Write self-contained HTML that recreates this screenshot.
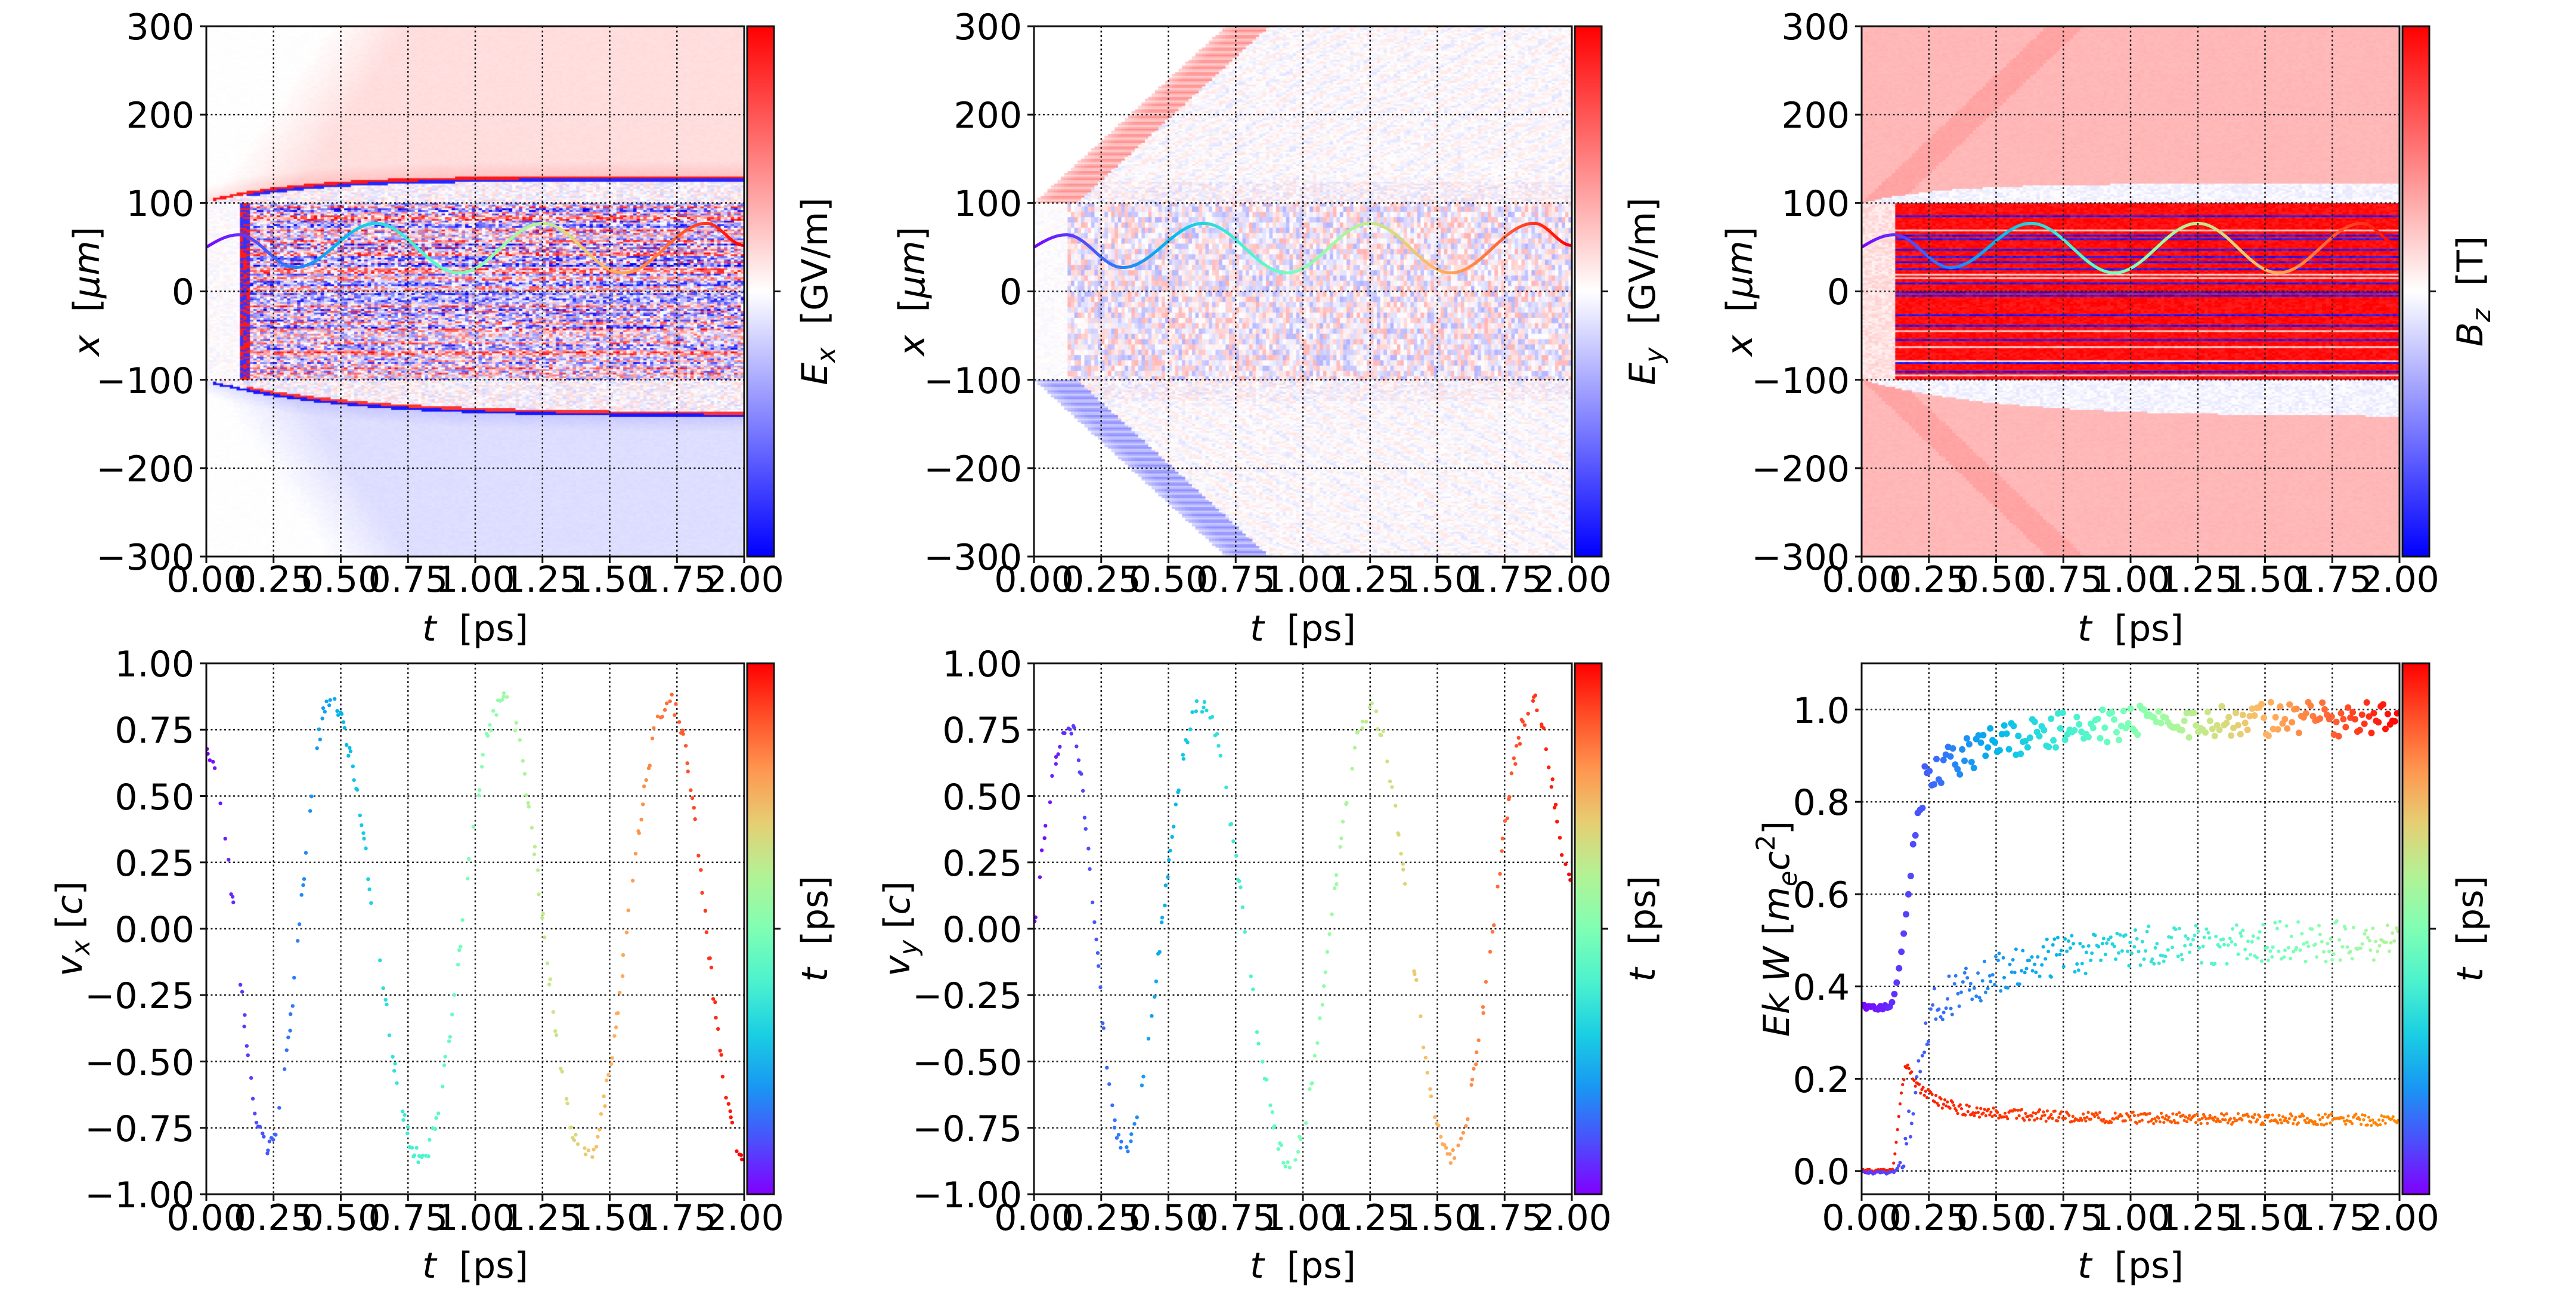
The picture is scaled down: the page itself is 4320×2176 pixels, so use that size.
<!DOCTYPE html>
<html><head><meta charset="utf-8">
<style>
html,body{margin:0;padding:0;background:#fff;}
#wrap{position:relative;width:4320px;height:2176px;overflow:hidden;background:#fff;}
canvas{position:absolute;}
svg{position:absolute;left:0;top:0;}
text{font-family:"DejaVu Sans","Liberation Sans",sans-serif;font-size:60px;fill:#000;white-space:pre;}
.yt{text-anchor:end;}
.xt{text-anchor:middle;}
</style></head><body>
<div id="wrap">
<canvas id="c1" width="902" height="889" style="left:346px;top:44px"></canvas>
<canvas id="c2" width="902" height="889" style="left:1734px;top:44px"></canvas>
<canvas id="c3" width="902" height="889" style="left:3122px;top:44px"></canvas>
<svg id="s" width="4320" height="2176" viewBox="0 0 4320 2176" xmlns="http://www.w3.org/2000/svg">
<defs>
<linearGradient id="gbwr" x1="0" y1="1" x2="0" y2="0">
<stop offset="0" stop-color="#0000ff"/><stop offset="0.5" stop-color="#ffffff"/><stop offset="1" stop-color="#ff0000"/>
</linearGradient>
<linearGradient id="grain" x1="0" y1="1" x2="0" y2="0">
<stop offset="0" stop-color="#8000ff"/><stop offset="0.1" stop-color="#4c4ffc"/><stop offset="0.2" stop-color="#1996f3"/><stop offset="0.3" stop-color="#1acee3"/><stop offset="0.4" stop-color="#4cf2ce"/><stop offset="0.5" stop-color="#80ffb4"/><stop offset="0.6" stop-color="#b2f295"/><stop offset="0.7" stop-color="#e6ce73"/><stop offset="0.8" stop-color="#ff964f"/><stop offset="0.9" stop-color="#ff4f28"/><stop offset="1" stop-color="#ff0000"/>
</linearGradient>
<clipPath id="k1"><rect x="346" y="44" width="902" height="889"/></clipPath>
<clipPath id="k2"><rect x="1734" y="44" width="902" height="889"/></clipPath>
<clipPath id="k3"><rect x="3122" y="44" width="902" height="889"/></clipPath>
<clipPath id="k4"><rect x="346" y="1112" width="902" height="890"/></clipPath>
<clipPath id="k5"><rect x="1734" y="1112" width="902" height="890"/></clipPath>
<clipPath id="k6"><rect x="3122" y="1112" width="902" height="890"/></clipPath>
</defs>
<g id="grid"></g>
<g id="data"></g>
<g id="frames"></g>

<g class="yt">
<text class="yt" x="326" y="66">300</text><text class="yt" x="326" y="214">200</text><text class="yt" x="326" y="362">100</text><text class="yt" x="326" y="510">0</text><text class="yt" x="326" y="659">−100</text><text class="yt" x="326" y="807">−200</text><text class="yt" x="326" y="955">−300</text>
<text class="yt" x="1714" y="66">300</text><text class="yt" x="1714" y="214">200</text><text class="yt" x="1714" y="362">100</text><text class="yt" x="1714" y="510">0</text><text class="yt" x="1714" y="659">−100</text><text class="yt" x="1714" y="807">−200</text><text class="yt" x="1714" y="955">−300</text>
<text class="yt" x="3102" y="66">300</text><text class="yt" x="3102" y="214">200</text><text class="yt" x="3102" y="362">100</text><text class="yt" x="3102" y="510">0</text><text class="yt" x="3102" y="659">−100</text><text class="yt" x="3102" y="807">−200</text><text class="yt" x="3102" y="955">−300</text>
<text class="yt" x="326" y="1134">1.00</text><text class="yt" x="326" y="1245">0.75</text><text class="yt" x="326" y="1357">0.50</text><text class="yt" x="326" y="1468">0.25</text><text class="yt" x="326" y="1579">0.00</text><text class="yt" x="326" y="1690">−0.25</text><text class="yt" x="326" y="1802">−0.50</text><text class="yt" x="326" y="1913">−0.75</text><text class="yt" x="326" y="2024">−1.00</text>
<text class="yt" x="1714" y="1134">1.00</text><text class="yt" x="1714" y="1245">0.75</text><text class="yt" x="1714" y="1357">0.50</text><text class="yt" x="1714" y="1468">0.25</text><text class="yt" x="1714" y="1579">0.00</text><text class="yt" x="1714" y="1690">−0.25</text><text class="yt" x="1714" y="1802">−0.50</text><text class="yt" x="1714" y="1913">−0.75</text><text class="yt" x="1714" y="2024">−1.00</text>
<text class="yt" x="3102" y="1212">1.0</text><text class="yt" x="3102" y="1366">0.8</text><text class="yt" x="3102" y="1521">0.6</text><text class="yt" x="3102" y="1676">0.4</text><text class="yt" x="3102" y="1831">0.2</text><text class="yt" x="3102" y="1985">0.0</text>
</g>

<g>
<text class="xt" x="346" y="992">0.00</text><text class="xt" x="458.75" y="992">0.25</text><text class="xt" x="571.5" y="992">0.50</text><text class="xt" x="684.25" y="992">0.75</text><text class="xt" x="797" y="992">1.00</text><text class="xt" x="909.75" y="992">1.25</text><text class="xt" x="1022.5" y="992">1.50</text><text class="xt" x="1135.25" y="992">1.75</text><text class="xt" x="1248" y="992">2.00</text>
<text class="xt" x="1734" y="992">0.00</text><text class="xt" x="1846.75" y="992">0.25</text><text class="xt" x="1959.5" y="992">0.50</text><text class="xt" x="2072.25" y="992">0.75</text><text class="xt" x="2185" y="992">1.00</text><text class="xt" x="2297.75" y="992">1.25</text><text class="xt" x="2410.5" y="992">1.50</text><text class="xt" x="2523.25" y="992">1.75</text><text class="xt" x="2636" y="992">2.00</text>
<text class="xt" x="3122" y="992">0.00</text><text class="xt" x="3234.75" y="992">0.25</text><text class="xt" x="3347.5" y="992">0.50</text><text class="xt" x="3460.25" y="992">0.75</text><text class="xt" x="3573" y="992">1.00</text><text class="xt" x="3685.75" y="992">1.25</text><text class="xt" x="3798.5" y="992">1.50</text><text class="xt" x="3911.25" y="992">1.75</text><text class="xt" x="4024" y="992">2.00</text>
<text class="xt" x="346" y="2062">0.00</text><text class="xt" x="458.75" y="2062">0.25</text><text class="xt" x="571.5" y="2062">0.50</text><text class="xt" x="684.25" y="2062">0.75</text><text class="xt" x="797" y="2062">1.00</text><text class="xt" x="909.75" y="2062">1.25</text><text class="xt" x="1022.5" y="2062">1.50</text><text class="xt" x="1135.25" y="2062">1.75</text><text class="xt" x="1248" y="2062">2.00</text>
<text class="xt" x="1734" y="2062">0.00</text><text class="xt" x="1846.75" y="2062">0.25</text><text class="xt" x="1959.5" y="2062">0.50</text><text class="xt" x="2072.25" y="2062">0.75</text><text class="xt" x="2185" y="2062">1.00</text><text class="xt" x="2297.75" y="2062">1.25</text><text class="xt" x="2410.5" y="2062">1.50</text><text class="xt" x="2523.25" y="2062">1.75</text><text class="xt" x="2636" y="2062">2.00</text>
<text class="xt" x="3122" y="2062">0.00</text><text class="xt" x="3234.75" y="2062">0.25</text><text class="xt" x="3347.5" y="2062">0.50</text><text class="xt" x="3460.25" y="2062">0.75</text><text class="xt" x="3573" y="2062">1.00</text><text class="xt" x="3685.75" y="2062">1.25</text><text class="xt" x="3798.5" y="2062">1.50</text><text class="xt" x="3911.25" y="2062">1.75</text><text class="xt" x="4024" y="2062">2.00</text>
</g>

<text class="xt" x="797" y="1074"><tspan font-style="italic">t</tspan>  [ps]</text>
<text class="xt" x="2185" y="1074"><tspan font-style="italic">t</tspan>  [ps]</text>
<text class="xt" x="3573" y="1074"><tspan font-style="italic">t</tspan>  [ps]</text>
<text class="xt" x="797" y="2142"><tspan font-style="italic">t</tspan>  [ps]</text>
<text class="xt" x="2185" y="2142"><tspan font-style="italic">t</tspan>  [ps]</text>
<text class="xt" x="3573" y="2142"><tspan font-style="italic">t</tspan>  [ps]</text>

<text class="xt" transform="translate(166,488.5) rotate(-90)"><tspan font-style="italic">x</tspan>  [<tspan font-style="italic">μm</tspan>]</text>
<text class="xt" transform="translate(1550,488.5) rotate(-90)"><tspan font-style="italic">x</tspan>  [<tspan font-style="italic">μm</tspan>]</text>
<text class="xt" transform="translate(2938,488.5) rotate(-90)"><tspan font-style="italic">x</tspan>  [<tspan font-style="italic">μm</tspan>]</text>
<text class="xt" transform="translate(137,1557) rotate(-90)"><tspan font-style="italic">v</tspan><tspan font-style="italic" font-size="43" dy="13">x</tspan><tspan dy="-13"> [</tspan><tspan font-style="italic">c</tspan>]</text>
<text class="xt" transform="translate(1525,1557) rotate(-90)"><tspan font-style="italic">v</tspan><tspan font-style="italic" font-size="43" dy="13">y</tspan><tspan dy="-13"> [</tspan><tspan font-style="italic">c</tspan>]</text>
<text class="xt" transform="translate(3000,1557) rotate(-90)"><tspan font-style="italic">Ek W</tspan> [<tspan font-style="italic">m</tspan><tspan font-style="italic" font-size="43" dy="13">e</tspan><tspan font-style="italic" dy="-13">c</tspan><tspan font-size="43" dy="-24">2</tspan><tspan dy="24">]</tspan></text>

<text class="xt" transform="translate(1387,488.5) rotate(-90)"><tspan font-style="italic">E</tspan><tspan font-style="italic" font-size="43" dy="13">x</tspan><tspan dy="-13">  [GV/m]</tspan></text>
<text class="xt" transform="translate(2775,488.5) rotate(-90)"><tspan font-style="italic">E</tspan><tspan font-style="italic" font-size="43" dy="13">y</tspan><tspan dy="-13">  [GV/m]</tspan></text>
<text class="xt" transform="translate(4163,488.5) rotate(-90)"><tspan font-style="italic">B</tspan><tspan font-style="italic" font-size="43" dy="13">z</tspan><tspan dy="-13">  [T]</tspan></text>
<text class="xt" transform="translate(1387,1557) rotate(-90)"><tspan font-style="italic">t</tspan>  [ps]</text>
<text class="xt" transform="translate(2775,1557) rotate(-90)"><tspan font-style="italic">t</tspan>  [ps]</text>
<text class="xt" transform="translate(4163,1557) rotate(-90)"><tspan font-style="italic">t</tspan>  [ps]</text>
</svg>
</div>
<script>
(function(){
var NS="http://www.w3.org/2000/svg";
var Ls=[346,1734,3122], W=902;
var rows=[[44,889],[1112,890]];
function el(p,tag,a){var e=document.createElementNS(NS,tag);for(var k in a)e.setAttribute(k,a[k]);p.appendChild(e);return e;}
function fr(x){return x-Math.floor(x);}
function h(i,j,s){return fr(Math.sin(i*12.9898+j*78.233+s*37.719)*43758.5453);}
function clamp(v,a,b){return v<a?a:(v>b?b:v);}
function bwr(v){v=clamp(v,-1,1);var r,g,b;if(v>=0){r=255;g=b=Math.round(255*(1-v));}else{b=255;r=g=Math.round(255*(1+v));}return "rgb("+r+","+g+","+b+")";}
function rainbow(x){x=clamp(x,0,1);var r=clamp(Math.abs(2*x-0.5),0,1),g=clamp(Math.sin(Math.PI*x),0,1),b=clamp(Math.cos(Math.PI*x/2),0,1);return "rgb("+Math.round(r*255)+","+Math.round(g*255)+","+Math.round(b*255)+")";}
function heat(id,fn){var c=document.getElementById(id),ctx=c.getContext("2d");var nt=160,nx=300,cw=902/nt,ch=889/nx;
 for(var i=0;i<nt;i++){var t=(i+0.5)/nt*2;for(var j=0;j<nx;j++){var x=300-(j+0.5)*2;ctx.fillStyle=bwr(fn(t,x,i,j));ctx.fillRect(i*cw,j*ch,cw+0.7,ch+0.7);}}}
var rowA=[],rowB=[];
for(var j=0;j<300;j++){rowA.push((h(j,3,1)-0.5)*2);var q=h(j,7,2);rowB.push(q<0.68?0.95:(q<0.92?-0.9:0.2));}
heat("c1",function(t,x,i,j){
 var Bu=100+28*(1-Math.exp(-t/0.35)), Bl=-(100+40*(1-Math.exp(-t/0.5)));
 var r=h(i,j,5)-0.5;
 if(x>=Bu){var d=x-Bu; if(d<3&&t>0.02)return 0.9; var f=clamp((100+t*450-x)/140,0,1); return 0.13*f+(d<20?0.12*(1-d/20):0)+r*0.02;}
 if(x<=Bl){var d2=Bl-x; if(d2<3&&t>0.02)return -0.9; var f2=clamp((100+t*450+x)/140,0,1); return -0.13*f2-(d2<20?0.1*(1-d2/20):0)+r*0.02;}
 if(x>Bu-3&&t>0.15)return -0.85;
 if(x<Bl+3&&t>0.15)return 0.8;
 if(Math.abs(x)<100){ if(t>0.13){ if(t<0.16)return (h(i,j,9)>0.5?0.9:-0.8); return clamp(rowA[j]*0.55+r*1.1,-1,1);} return r*0.12;}
 return r*0.35;
});
heat("c2",function(t,x,i,j){
 var r=h(i,j,11)-0.5, ax=Math.abs(x), s=x>0?1:-1;
 var d=100+280*t-ax;
 if(ax>100){ if(d<0)return 0; if(d<45)return s*(0.32+0.12*Math.sin(ax*0.9))*(0.6+0.4*Math.min(1,d/15)); if(ax<125&&t>0.13) return r*0.3; return r*0.14+0.05*Math.sin(ax*0.35-t*60)*s;}
 if(t>0.12){ var bj=Math.floor(j/3); return (h(i,bj,13)-0.5)*0.6; }
 return r*0.08;
});
heat("c3",function(t,x,i,j){
 var r=h(i,j,17)-0.5, ax=Math.abs(x);
 var Bu=x>0?100+22*(1-Math.exp(-t/0.3)):100+42*(1-Math.exp(-t/0.5));
 if(ax<100&&t>0.13){ return clamp(rowB[j]+r*0.15,-1,1);}
 if(ax<100) return 0.12+r*0.15;
 if(ax<Bu&&t>0.03) return r*0.12-0.04;
 var d=100+290*t-ax; if(d>0&&d<40) return 0.36+r*0.03;
 return 0.28+r*0.03;
});
var G=document.getElementById("grid"),D=document.getElementById("data"),F=document.getElementById("frames");
var ytk=[[0,148.17,296.33,444.5,592.67,740.83,889],[0,111.25,222.5,333.75,445,556.25,667.5,778.75,890],[77.4,232.2,387,541.7,696.5,851.3]];
for(var r=0;r<2;r++)for(var c=0;c<3;c++){
 var L=Ls[c],T=rows[r][0],H=rows[r][1];
 var yt=r==0?ytk[0]:(c==2?ytk[2]:ytk[1]);
 var gg=el(r==0?F:G,"g",{stroke:"#222","stroke-width":"2.5","stroke-dasharray":"3,4.5",fill:"none"});
 for(var k=1;k<8;k++){var X=L+k*112.75;el(gg,"line",{x1:X,y1:T,x2:X,y2:T+H});}
 for(var k=0;k<yt.length;k++){var Y=T+yt[k];el(gg,"line",{x1:L,y1:Y,x2:L+W,y2:Y});}
 el(F,"rect",{x:L,y:T,width:W,height:H,fill:"none",stroke:"#111","stroke-width":"3"});
 var tg=el(F,"g",{stroke:"#111","stroke-width":"3"});
 for(var k=0;k<9;k++){var X2=L+k*112.75;el(tg,"line",{x1:X2,y1:T+H,x2:X2,y2:T+H+11});}
 for(var k=0;k<yt.length;k++){var Y2=T+yt[k];el(tg,"line",{x1:L-11,y1:Y2,x2:L,y2:Y2});}
 el(F,"rect",{x:L+907,y:T,width:45,height:H,fill:r==0?"url(#gbwr)":"url(#grain)",stroke:"#111","stroke-width":"3"});
 el(tg,"line",{x1:L+952,y1:T+H/2,x2:L+963,y2:T+H/2});
}
function kint(kp,t){for(var i=0;i<kp.length-1;i++){if(t<=kp[i+1][0]){var a=kp[i],b=kp[i+1],u=(t-a[0])/(b[0]-a[0]);u=(1-Math.cos(Math.PI*u))/2;return a[1]+(b[1]-a[1])*u;}}return kp[kp.length-1][1];}
var traj=[[0,50],[0.12,64],[0.33,27],[0.63,77],[0.94,21],[1.25,77],[1.55,21],[1.86,77],[2.0,52]];
for(var c=0;c<3;c++){var L=Ls[c];var g=el(D,"g",{"clip-path":"url(#k"+(c+1)+")","stroke-width":"5",fill:"none","stroke-linecap":"round"});
 var px=null,py=null;for(var n=0;n<=400;n++){var t=n/200;var x=kint(traj,t);if(t<0.12)x=50+14*Math.sin(Math.PI/2*t/0.12);var X=L+t/2*902,Y=44+(300-x)/600*889;if(px!==null)el(g,"line",{x1:px,y1:py,x2:X,y2:Y,stroke:rainbow(t/2)});px=X;py=Y;}}
var vxk=[[0,0.68],[0.23,-0.83],[0.46,0.85],[0.8,-0.86],[1.1,0.86],[1.41,-0.86],[1.72,0.86],[2.0,-0.85]];
var vyk=[[0,0],[0.13,0.76],[0.33,-0.83],[0.62,0.85],[0.95,-0.87],[1.25,0.82],[1.55,-0.86],[1.86,0.85],[2.0,0.2]];
function sc(c,kp,seed){var L=Ls[c];var g=el(D,"g",{"clip-path":"url(#k"+(c+4)+")"});
 for(var n=0;n<330;n++){var t=clamp(n/165+(h(n,1,seed)-0.5)*0.006,0,2);var v=kint(kp,t);
  if(seed==2&&t<0.13)v=0.76*Math.sin(Math.PI/2*t/0.13);
  v+=(h(n,2,seed)-0.5)*0.07; if(h(n,4,seed)<0.25)continue;
  el(g,"circle",{cx:L+t/2*902,cy:1112+(1-v)/2*890,r:3.2,fill:rainbow(t/2)});}}
sc(0,vxk,1);sc(1,vyk,2);
var L6=3122;var g6=el(D,"g",{"clip-path":"url(#k6)"});
function Y6(v){return 1112+(1.10-v)*773.9;}
function sm(u){u=clamp(u,0,1);return u*u*(3-2*u);}
for(var n=0;n<420;n++){var t=n/210;var v;
 if(t<0.11)v=0.001+(h(n,3,7)-0.5)*0.006;else if(t<0.16)v=0.2*sm((t-0.11)/0.05);else v=0.11+0.1*Math.exp(-(t-0.16)/0.08)+0.025*Math.exp(-(t-0.16)/0.6);
 if(t>0.16)v+=(h(n,5,7)-0.5)*0.025;
 var col=t<0.14?"#ff1a00":"hsl("+(6+27*(t-0.14)/1.86)+",100%,50%)";
 el(g6,"circle",{cx:L6+t/2*902,cy:Y6(v),r:2.6,fill:col});}
for(var n=0;n<320;n++){var t=n/160+(h(n,1,8)-0.5)*0.004;var v;
 if(t<0.12)v=-0.003+(h(n,3,8)-0.5)*0.006;else if(t<0.3)v=0.37*sm((t-0.12)/0.17);else v=0.37+0.13*(1-Math.exp(-(t-0.3)/0.35));
 if(t>0.15)v+=(h(n,5,8)-0.5)*0.09;
 el(g6,"circle",{cx:L6+t/2*902,cy:Y6(v),r:3,fill:rainbow(0.06+0.27*t)});}
for(var n=0;n<230;n++){var t=n/115;var v;
 if(t<0.1)v=0.355+(h(n,3,9)-0.5)*0.01;else if(t<0.25)v=0.355+0.5*sm((t-0.1)/0.15);else v=0.855+0.125*(1-Math.exp(-(t-0.25)/0.3));
 if(t>0.18)v+=(h(n,5,9)-0.5)*0.075;
 el(g6,"circle",{cx:L6+t/2*902,cy:Y6(v),r:5.5,fill:rainbow(t/2)});}
})();
</script>
</body></html>
